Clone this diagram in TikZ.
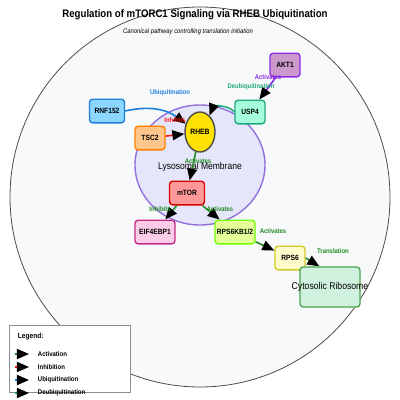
\documentclass[tikz,border=0pt]{standalone}
\usepackage{fontspec}
\setmainfont[FakeStretch=0.88]{Liberation Sans}
\usetikzlibrary{shapes.geometric,arrows.meta}

\definecolor{cellfill}{HTML}{F8F9FA}
\definecolor{lysofill}{HTML}{E6E6FA}
\definecolor{lysoline}{HTML}{9370DB}
\definecolor{ubqblue}{HTML}{1E7FD8}
\definecolor{inhred}{HTML}{FF1A1A}
\definecolor{dubteal}{HTML}{20A97F}
\definecolor{aktpurple}{HTML}{8A2BE2}
\definecolor{actgreen}{HTML}{228B22}

\begin{document}
\begin{tikzpicture}[x=0.25mm, y=-0.25mm,
  box/.style={draw, rectangle, rounded corners=0.8mm, line width=0.35mm, inner sep=0.3mm,
    minimum height=5.9mm, font=\fontsize{5.4}{6}\selectfont\bfseries},
  lbl/.style={font=\fontsize{4.8}{5.5}\selectfont\bfseries},
  leg/.style={font=\fontsize{4.85}{5.5}\selectfont\bfseries, anchor=west},
  link/.style={line width=0.4mm, -{Triangle[length=3mm, width=2.5mm, color=black]}}]
\useasboundingbox (0,0) rectangle (400,400);
\fill[white] (0,0) rectangle (400,400);

% cell and lysosome
\draw[fill=cellfill, draw=black!70, line width=0.2mm] (200,197) circle[radius=47.5mm];
\node[draw=lysoline, fill=lysofill, line width=0.35mm, ellipse, minimum width=32.5mm, minimum height=30mm,
  font=\fontsize{6.9}{8}\selectfont] (lyso) at (200,165) {};
\node[font=\fontsize{6.9}{8}\selectfont] (lysotext) at (200,167) {Lysosomal Membrane};

\node[font=\fontsize{7.8}{9}\selectfont\bfseries] (title) at (195,15) {Regulation of mTORC1 Signaling via RHEB Ubiquitination};
\node[font=\fontsize{4.74}{5.5}\selectfont\itshape] (subtitle) at (188,32) {Canonical pathway controlling translation initiation};

% proteins
\node[draw=black!70, fill=yellow!85!orange, line width=0.35mm, ellipse, inner sep=0pt,
  minimum width=7.5mm, minimum height=10mm, font=\fontsize{5.5}{6}\selectfont\bfseries] (1) at (200,132) {RHEB};
\node[box, draw=ubqblue, fill=blue!35!cyan!45, minimum width=8.75mm] (2) at (107,111) {RNF152};
\node[box, draw=orange, fill=orange!45, minimum width=7.5mm] (3) at (150,138) {TSC2};
\node[box, draw=dubteal, fill=green!40!cyan!35, minimum width=7.5mm] (4) at (250,112) {USP4};
\node[box, draw=aktpurple, fill=violet!40, minimum width=7.5mm] (5) at (285,65) {AKT1};
\node[box, draw=red!85!black, fill=red!40, minimum width=8.75mm] (6) at (187,193) {mTOR};
\node[box, draw=magenta!80!black, fill=magenta!20, minimum width=10mm] (7) at (155,232) {EIF4EBP1};
\node[box, draw=lime!60!green, fill=lime!40, minimum width=10mm] (8) at (235,232) {RPS6KB1/2};
\node[box, draw=yellow!80!black, fill=yellow!20, minimum width=7.5mm] (9) at (290,258) {RPS6};
\node[box, draw=actgreen!80, fill=green!40!teal!18, minimum width=15mm, minimum height=10mm,
  label={[font=\fontsize{7}{8}\selectfont]center:Cytosolic Ribosome}] (10) at (330,287) {};

% connectors
\path[draw,link,ubqblue] (2.east) to[bend left=25] (1.150);
\path[draw,link,inhred] (3) -- (1);
\path[draw,link,dubteal] (4.west) to[bend right=60] (1.60);
\path[draw,link,aktpurple] (5) -- (4);
\path[draw,link,actgreen] (1) -- (6);
\path[draw,link,actgreen] (6) -- (7);
\path[draw,link,actgreen] (6) -- (8);
\path[draw,link,actgreen] (8) -- (9);
\path[draw,link,actgreen] (9.east) -- ([xshift=5mm]10.north west);

% connector labels
\node[lbl, text=ubqblue] (l1) at (170,93) {Ubiquitination};
\node[lbl, text=inhred] (l2) at (175,120) {Inhibits};
\node[lbl, text=dubteal] (l3) at (251,87) {Deubiquitination};
\node[lbl, text=aktpurple] (l4) at (268,77) {Activates};
\node[lbl, text=actgreen] (l5) at (198,161) {Activates};
\node[lbl, text=actgreen] (l6) at (160,209) {Inhibits};
\node[lbl, text=actgreen] (l7) at (220,209) {Activates};
\node[lbl, text=actgreen] (l8) at (273,231) {Activates};
\node[lbl, text=actgreen] (l9) at (333,251) {Translation};

% legend
\draw[fill=white, draw=black!45, line width=0.2mm] (9,325) rectangle (130,392);
\node[font=\fontsize{5.3}{6}\selectfont\bfseries, anchor=west] (legtitle) at (13,337) {Legend:};
\coordinate (a1) at (15,354); \coordinate (b1) at (29,354);
\coordinate (a2) at (15,367); \coordinate (b2) at (29,367);
\coordinate (a3) at (15,380); \coordinate (b3) at (29,380);
\coordinate (a4) at (15,393); \coordinate (b4) at (29,393);
\path[draw,link,actgreen] (a1) -- (b1);
\path[draw,link,inhred] (a2) -- (b2);
\path[draw,link,ubqblue] (a3) -- (b3);
\path[draw,link,dubteal] (a4) -- (b4);
\node[leg] (leg1) at (33,354) {Activation};
\node[leg] (leg2) at (33,367) {Inhibition};
\node[leg] (leg3) at (33,380) {Ubiquitination};
\node[leg] (leg4) at (33,393) {Deubiquitination};
\end{tikzpicture}
\end{document}
